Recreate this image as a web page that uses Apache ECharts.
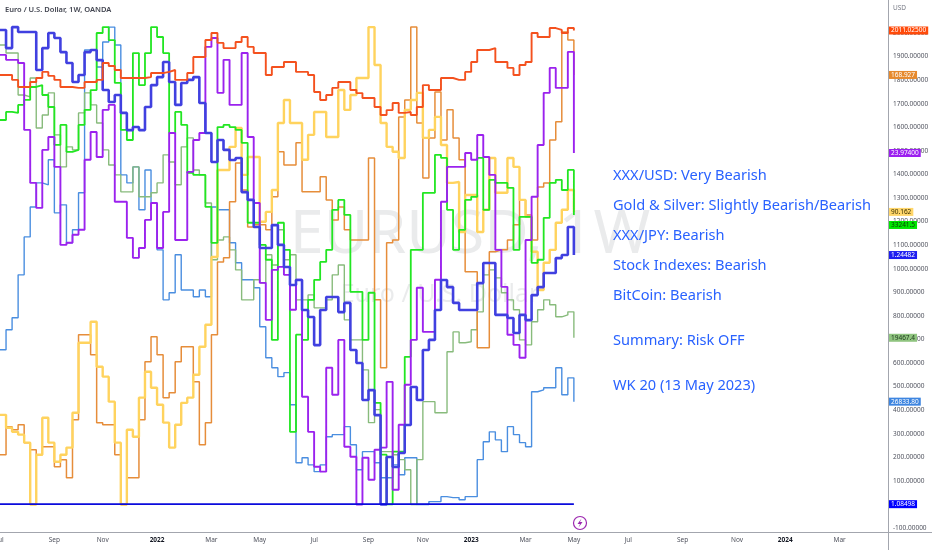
<!DOCTYPE html>
<html>
<head>
<meta charset="utf-8">
<script src="https://cdn.jsdelivr.net/npm/echarts@6.0.0/dist/echarts.min.js"></script>
<style>
  html, body { margin: 0; padding: 0; background: #fff; }
  #main { width: 932px; height: 550px; }
</style>
</head>
<body>
<div id="main"></div>
<script>
// weekly bars, first one is the week of 5 Jul 2021, axis runs to end of Apr 2024
const firstWeek = '2021-07-05';
const weekCount = 148;
const monthNames = ['Jan','Feb','Mar','Apr','May','Jun','Jul','Aug','Sep','Oct','Nov','Dec'];

const gold = [1822,1822,1801,1771,1771,1792,1809,1835,1818,1801,
  1771,1771,1767,1767,1792,1792,1801,1873,1860,1843,
  1809,1809,1809,1809,1813,1830,1830,1835,1843,1801,
  1801,1830,1898,1898,1970,2000,1958,1936,1936,1962,
  1983,1941,1915,1915,1822,1856,1856,1877,1877,1835,
  1835,1822,1750,1716,1737,1767,1792,1792,1758,1745,
  1724,1724,1686,1652,1673,1703,1661,1665,1652,1686,
  1779,1758,1758,1809,1809,1801,1801,1835,1877,1928,
  1928,1936,1877,1877,1852,1822,1864,1877,2000,1983,
  1983,2021,2013,2000,2021,2011];

const gbpusd = [2013,1936,2025,2004,2004,2004,1843,1936,2000,1979,
  1919,1873,1792,1822,1919,1928,1885,1758,1707,1737,
  1661,1588,1601,1588,1686,1779,1813,1877,1792,1695,
  1788,1801,1813,1703,1576,1453,1546,1504,1461,1470,
  1325,1292,1177,1088,1088,1185,1101,1007,931,952,
  825,795,676,825,880,880,816,855,655,600,
  443,485,379,0,201,159,218,337,498,443,
  655,698,825,952,922,855,825,825,825,939,
  1024,1024,804,804,791,727,804,782,888,922,
  982,982,1045,1058,1177,1058];

const silver = [1907,1886,1886,1873,1589,1364,1258,1504,1559,1432,
  1101,1110,1144,1165,1462,1580,1474,1674,1695,1284,
  1284,1131,1046,1088,1207,1279,1088,1241,1576,1122,
  1122,1411,1546,1576,1941,1979,1746,1886,1695,1695,
  1915,1559,1279,940,783,995,1008,974,826,953,
  457,308,160,139,580,465,698,245,202,0,
  198,105,232,241,520,62,338,508,698,919,
  732,732,953,1284,1432,1432,1432,1491,1462,1567,
  1474,1398,1080,923,720,677,622,1122,1305,1525,
  1746,1852,1767,1767,1920,1491];

const us30 = [1631,1665,1661,1695,1716,1771,1779,1737,1686,1525,
  1610,1496,1504,1610,1674,1758,2000,2025,1970,1788,
  1589,1546,1915,1779,1915,2025,1983,1915,1576,1665,
  1610,1407,1398,1398,1262,1110,1601,1610,1601,1589,
  1534,1195,1195,1101,1038,698,1195,1080,308,720,
  698,868,953,1029,1080,1250,1292,1228,902,902,
  698,898,431,211,0,224,224,626,1080,1080,
  1322,1322,1483,1470,1250,1080,1165,1292,1305,1470,
  1250,1377,1364,1364,1343,1080,1220,1220,1025,1038,
  1216,1364,1377,1334,1419,1228];

const hk50 = [1949,1915,1915,1737,1729,1809,1597,1652,1746,1568,
  1432,1517,1504,1661,1746,1695,1618,1504,1440,1398,
  1326,1326,1432,1305,1305,1322,1364,1483,1453,1356,
  1517,1555,1419,1398,1279,1038,1122,1135,1080,995,
  868,868,953,940,1059,1016,1165,1038,1059,868,
  868,889,834,834,868,974,1016,783,698,698,
  571,347,402,224,224,211,190,147,0,190,
  436,436,389,389,648,732,686,690,741,817,
  974,995,961,898,868,826,698,677,775,826,
  868,847,796,804,817,707];

const btc = [656,741,792,974,1135,1262,1364,1356,1462,1237,
  1271,1110,1165,1322,1928,1928,1856,1962,2025,1949,
  1398,1364,1432,1250,1419,1279,1080,868,898,1059,
  910,910,881,910,881,1262,1250,1250,1110,1025,
  953,953,919,754,622,580,542,559,423,177,
  198,168,139,168,287,296,296,330,253,147,
  224,224,177,113,113,168,126,198,198,0,
  0,12,12,33,29,29,20,33,33,190,
  266,308,274,224,330,296,262,245,478,486,
  495,495,580,465,537,436];

const gbpjpy = [211,330,317,338,262,232,211,245,245,160,
  190,113,359,720,720,635,347,338,338,211,
  0,113,113,359,605,711,635,453,474,605,
  669,669,520,253,347,720,1029,1046,1284,1449,
  1334,1177,1186,1186,1165,1305,1496,1440,1440,1534,
  1326,1326,1326,1390,1292,1207,1262,1165,1122,1122,
  1122,1470,868,580,1110,1122,1644,1716,2025,1618,
  1385,1555,1750,1546,1674,1555,1462,987,987,665,
  665,1072,1080,1080,1122,1186,1292,1228,1122,1347,
  1364,1546,1623,2004,1970,1822];

const audjpy = [380,325,308,296,262,0,211,368,262,181,
  211,241,389,686,686,775,584,542,436,262,
  0,317,287,453,563,495,423,347,241,338,
  431,453,550,669,762,1050,1419,1419,1517,1597,
  1398,1474,1474,1199,1241,1334,1618,1716,1618,1618,
  1462,1568,1665,1665,1559,1559,1758,1674,1737,1809,
  1809,2025,1864,1618,1517,1496,1470,1674,1716,1746,
  1555,1589,1644,1525,1364,1368,1156,1313,1313,1156,
  1250,1470,1322,1322,1470,1432,1292,1220,1072,910,
  1025,1080,1195,1250,1334,1241];

const eurusd = [1.187,1.180,1.177,1.187,1.176,1.179,1.170,1.179,1.188,
  1.181,1.173,1.172,1.160,1.157,1.160,1.164,1.156,
  1.156,1.144,1.129,1.132,1.131,1.132,1.124,1.132,1.137,
  1.136,1.141,1.141,1.115,1.145,1.141,1.132,1.127,1.093,
  1.091,1.105,1.102,1.106,1.093,1.081,1.080,1.054,
  1.055,1.044,1.056,1.073,1.072,1.052,1.049,1.055,1.043,
  1.018,1.009,1.021,1.022,1.018,1.026,1.003,0.997,0.996,
  1.001,0.969,0.980,0.974,0.973,0.986,0.996,0.995,1.035,
  1.032,1.040,1.054,1.053,1.058,1.061,1.070,1.065,
  1.083,1.085,1.088,1.080,1.068,1.070,1.055,1.064,1.064,
  1.067,1.076,1.084,1.090,1.099,1.099,1.101,1.102,1.08498];

// price tags shown on the right scale
const lastPrices = {
  gold: '2011.02500', gbpjpy: '168.927', silver: '23.97400', audjpy: '90.162',
  us30: '33241.5', gbpusd: '1.24482', hk50: '19467.4', btc: '26833.80', eurusd: '1.08498'
};

const notes = [
  'XXX/USD: Very Bearish',
  'Gold & Silver: Slightly Bearish/Bearish',
  'XXX/JPY: Bearish',
  'Stock Indexes: Bearish',
  'BitCoin: Bearish',
  'Summary: Risk OFF',
  'WK 20 (13 May 2023)'
];
const noteY = [176, 206, 236, 266, 296, 341, 386];

var weeks = [];
var d0 = new Date(firstWeek + 'T00:00:00Z');
for (var i = 0; i < weekCount; i++) {
  var d = new Date(d0.getTime() + i * 7 * 86400000);
  weeks.push(d.toISOString().slice(0, 10));
}

const makeSeries = (name, data, color, width, key, tagColor, textColor, offset) => ({
  name: name,
  type: 'line',
  step: 'end',
  data: data,
  showSymbol: false,
  silent: true,
  lineStyle: { color: color, width: width },
  itemStyle: { color: color },
  markLine: {
    silent: true,
    symbol: ['none', 'none'],
    lineStyle: { color: 'rgba(0,0,0,0)', width: 0 },
    label: {
      show: true,
      position: 'end',
      distance: 1,
      formatter: lastPrices[key],
      backgroundColor: tagColor,
      color: textColor,
      fontFamily: 'Noto Sans',
      fontSize: 6.5,
      lineHeight: 8,
      padding: [0, 2],
      offset: offset || [0, 0]
    },
    data: [{ yAxis: data[data.length - 1] }]
  }
});

var chartDom = document.getElementById('main');
var myChart = echarts.init(chartDom);

var graphics = [
  // watermark
  { type: 'text', x: 470, y: 236, z: -1, silent: true,
    style: { text: 'EURUSD, 1W', fill: 'rgba(150,153,162,0.2)', font: '61px "Noto Sans"', align: 'center', verticalAlign: 'middle' } },
  { type: 'text', x: 440, y: 295, z: -1, silent: true,
    style: { text: 'Euro / U.S. Dollar', fill: 'rgba(150,153,162,0.2)', font: '25px "Noto Sans"', align: 'center', verticalAlign: 'middle' } },
  // frame lines
  { type: 'line', z: 50, silent: true, shape: { x1: 888.5, y1: 0, x2: 888.5, y2: 550 }, style: { stroke: '#a3a6ae', lineWidth: 1 } },
  { type: 'line', z: 50, silent: true, shape: { x1: 0, y1: 532.5, x2: 932, y2: 532.5 }, style: { stroke: '#a3a6ae', lineWidth: 1 } },
  { type: 'text', x: 5, y: 10, z: 60, silent: true,
    style: { text: 'Euro / U.S. Dollar, 1W, OANDA', fill: '#434651', font: '600 7.5px "Noto Sans"', verticalAlign: 'middle' } },
  { type: 'text', x: 893, y: 8, z: 60, silent: true,
    style: { text: 'USD', fill: '#787b86', font: '6.5px "Noto Sans"', verticalAlign: 'middle' } },
  // lightning badge
  { type: 'circle', z: 60, silent: true, shape: { cx: 580, cy: 523, r: 6.5 }, style: { fill: '#fff', stroke: '#9c27b0', lineWidth: 1.2 } },
  { type: 'polygon', z: 61, silent: true,
    shape: { points: [[581.5, 518.5], [577.5, 524], [580, 524], [578.5, 527.5], [582.5, 522], [580, 522]] },
    style: { fill: '#9c27b0' } }
];
notes.forEach((t, k) => {
  graphics.push({ type: 'text', x: 613, y: noteY[k], z: 100, silent: true,
    style: { text: t, fill: '#2962ff', font: '14.6px "Noto Sans"', verticalAlign: 'middle' } });
});

var option = {
  animation: false,
  backgroundColor: '#ffffff',
  grid: { left: 0, right: 44, top: 0, bottom: 22, containLabel: false, outerBoundsMode: 'none' },
  xAxis: {
    type: 'category',
    data: weeks,
    boundaryGap: false,
    axisLine: { show: false },
    axisTick: { show: false },
    splitLine: { show: false },
    axisLabel: {
      margin: 9,
      fontFamily: 'Noto Sans',
      fontSize: 6.5,
      color: '#50535e',
      interval: function (idx, val) {
        var m = new Date(val + 'T00:00:00Z').getUTCMonth();
        if (m % 2 !== 0) return false;
        if (idx === 0) return true;
        var pm = new Date(weeks[idx - 1] + 'T00:00:00Z').getUTCMonth();
        return pm !== m;
      },
      formatter: function (val) {
        var d = new Date(val + 'T00:00:00Z');
        var m = d.getUTCMonth();
        if (m === 0) return '{y|' + d.getUTCFullYear() + '}';
        return monthNames[m];
      },
      rich: { y: { fontFamily: 'Noto Sans', fontSize: 6.5, fontWeight: 'bold', color: '#131722' } }
    }
  },
  yAxis: {
    type: 'value',
    position: 'right',
    min: -100,
    max: 2140,
    interval: 100,
    axisLine: { show: false },
    axisTick: { show: false },
    splitLine: { show: false },
    axisLabel: {
      margin: 5,
      fontFamily: 'Noto Sans',
      fontSize: 6.5,
      color: '#50535e',
      showMaxLabel: false,
      formatter: v => (v > 2050 ? '' : v.toFixed(5))
    }
  },
  graphic: graphics,
  series: [
    makeSeries('BTCUSD', btc, '#4a8ee0', 1.4, 'btc', '#3d85e0', '#ffffff'),
    makeSeries('HK50', hk50, '#88bb7c', 1.4, 'hk50', '#8fc47f', '#1e3a1e'),
    makeSeries('GBPJPY', gbpjpy, '#e68d3a', 1.5, 'gbpjpy', '#e68a2e', '#ffffff'),
    makeSeries('AUDJPY', audjpy, '#ffd35e', 2.4, 'audjpy', '#ffd66b', '#3a3000'),
    makeSeries('US30', us30, '#22e622', 1.8, 'us30', '#00e600', '#0b3a0b', [0, 10]),
    makeSeries('XAGUSD', silver, '#9b22ee', 1.9, 'silver', '#9c1ff0', '#ffffff'),
    makeSeries('GBPUSD', gbpusd, '#4040e0', 2.6, 'gbpusd', '#1e1ef0', '#ffffff'),
    makeSeries('XAUUSD', gold, '#f4511e', 1.9, 'gold', '#ff4a0a', '#ffffff'),
    makeSeries('EURUSD', eurusd, '#0b0bdc', 1.8, 'eurusd', '#0000ff', '#ffffff')
  ]
};

option && myChart.setOption(option);
</script>
</body>
</html>
